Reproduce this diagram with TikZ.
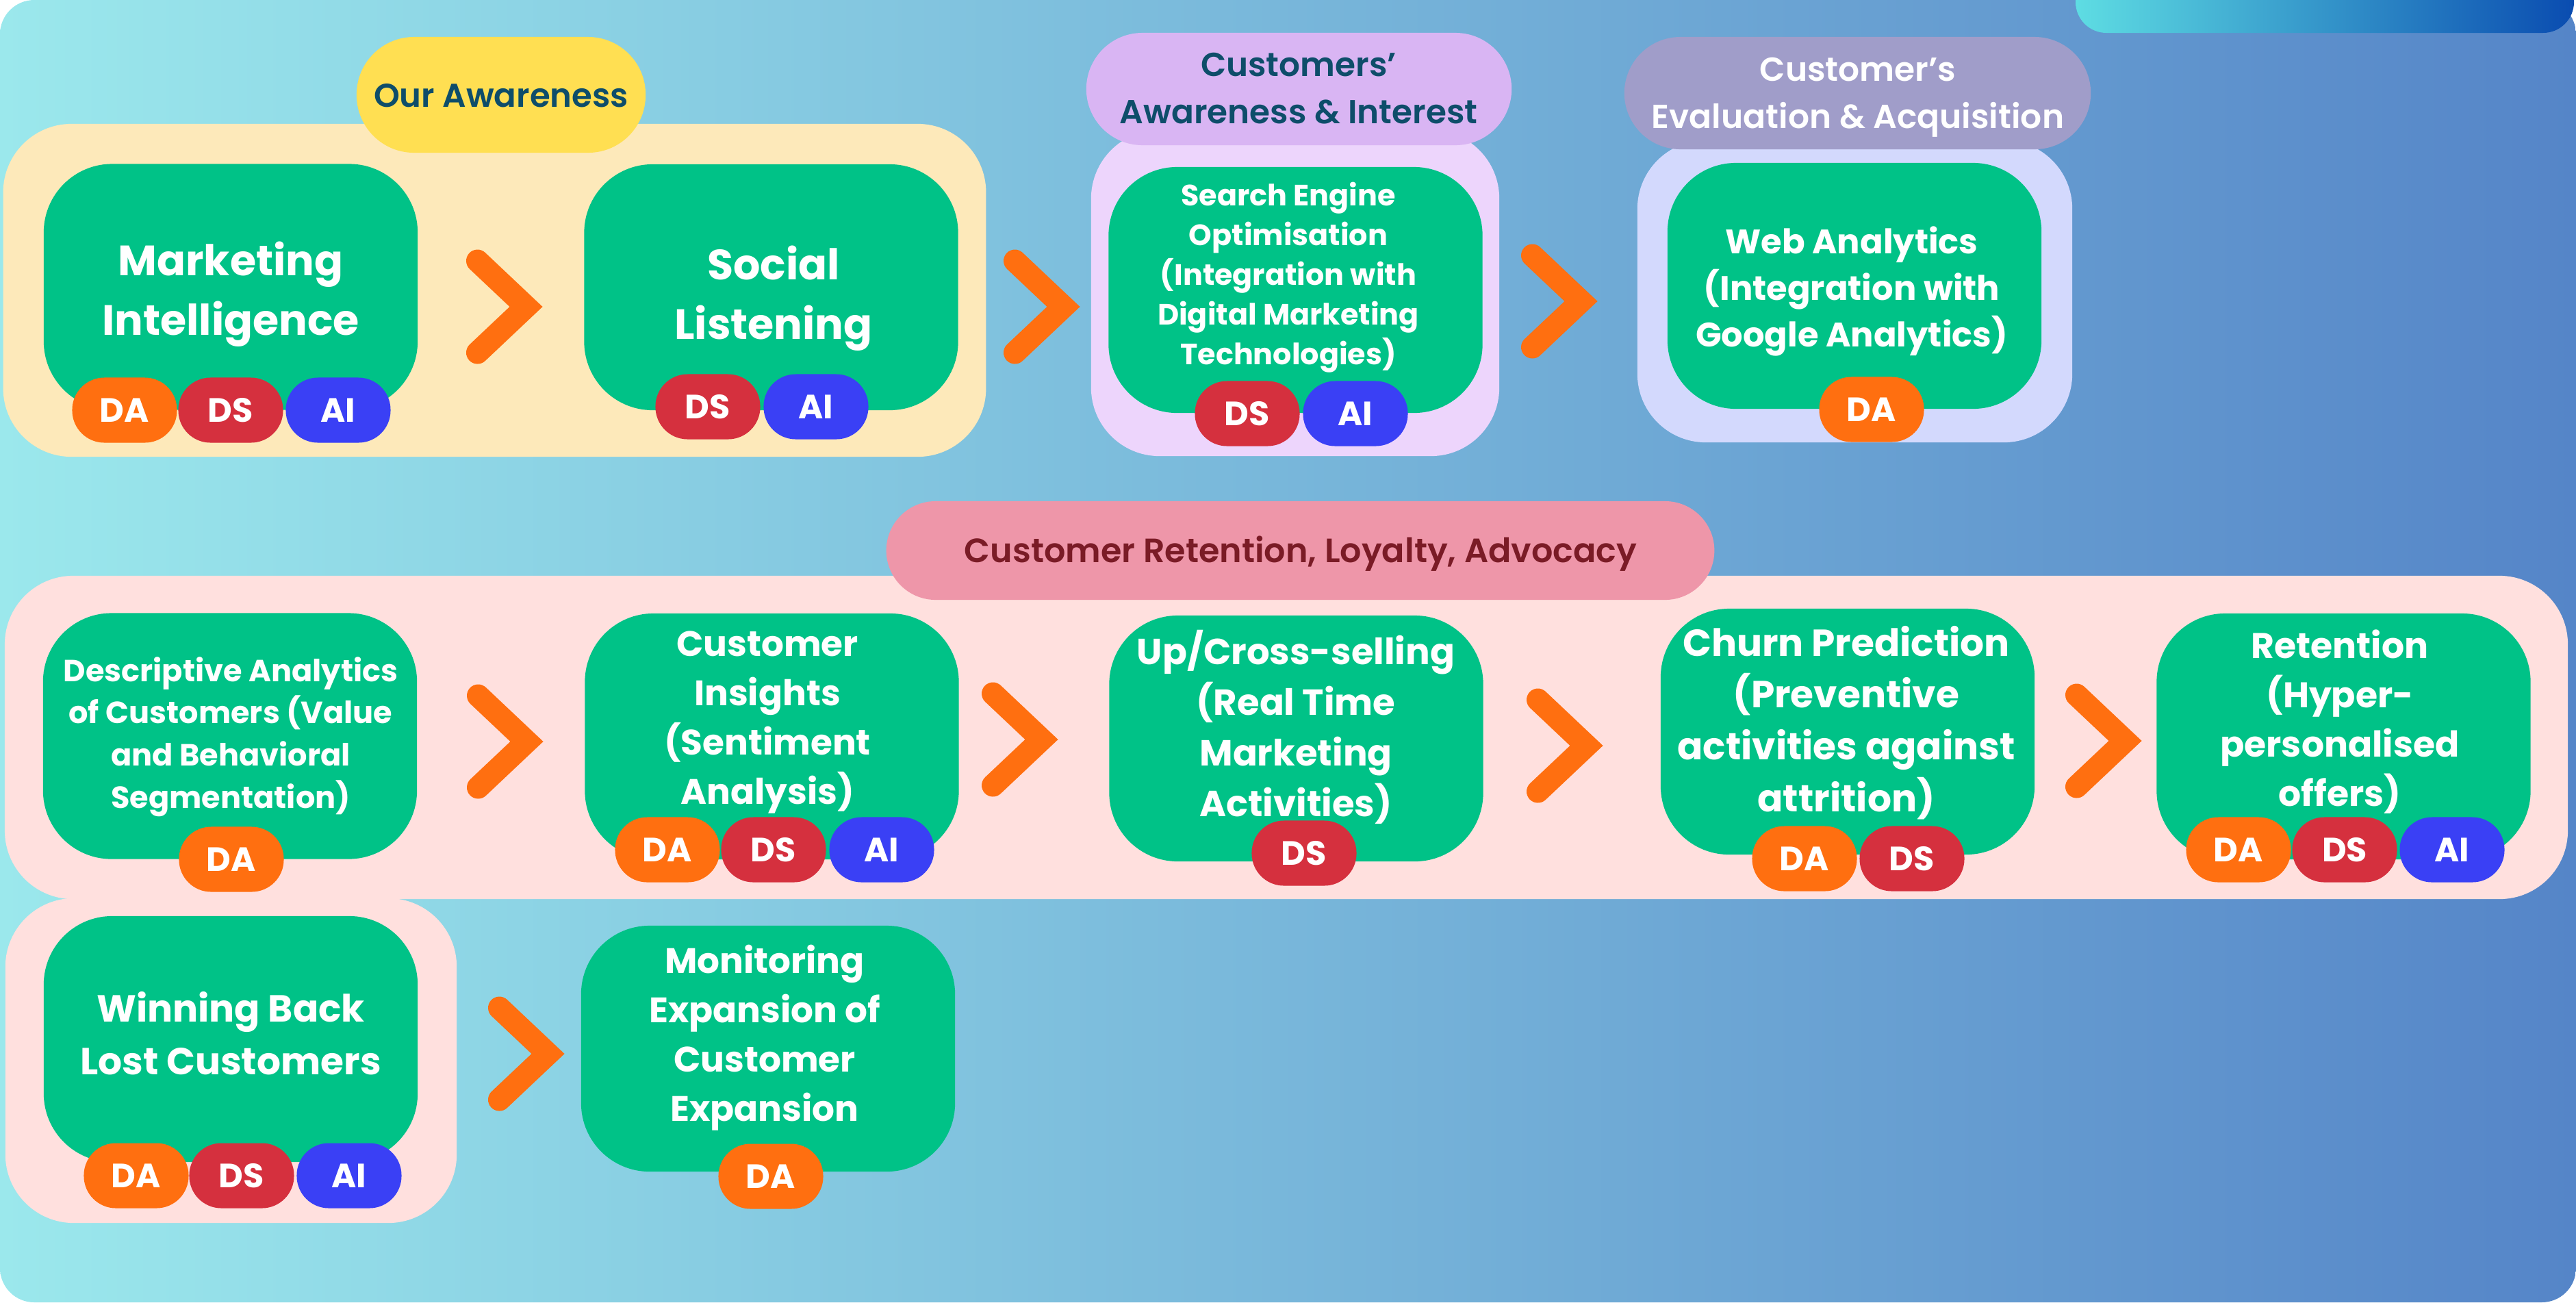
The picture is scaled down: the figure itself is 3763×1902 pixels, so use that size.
\documentclass[tikz,border=0pt]{standalone}
\usepackage{fontspec}
\setmainfont{Poppins}[UprightFont=* SemiBold, BoldFont=* Bold]
\definecolor{bgL}{HTML}{9BE8EC}
\definecolor{bgR}{HTML}{5585C8}
\definecolor{barL}{HTML}{5EDDE3}
\definecolor{barR}{HTML}{0A4CB0}
\definecolor{grn}{HTML}{00C287}
\definecolor{daC}{HTML}{FF6F10}
\definecolor{dsC}{HTML}{D5303E}
\definecolor{aiC}{HTML}{3A40F5}
\definecolor{yelC}{HTML}{FDE9BA}
\definecolor{yelL}{HTML}{FFDF52}
\definecolor{purC}{HTML}{EDD5FC}
\definecolor{purL}{HTML}{D9B5F3}
\definecolor{evaC}{HTML}{D3D9FD}
\definecolor{evaL}{HTML}{A09DC9}
\definecolor{pkC}{HTML}{FFE0DE}
\definecolor{pkL}{HTML}{EE96A9}
\definecolor{tealT}{HTML}{0E4D6A}
\definecolor{redT}{HTML}{7A1B26}
\newcommand\tl[1]{\vtop{\halign{\hfil##\hfil\cr#1\crcr}}}
\newcommand\fs[2]{\fontsize{#1}{#2}\selectfont}
\newcommand\chev[2]{\draw[chev] ({#1+16.5},{#2-67}) -- ({#1+87.5},{#2}) -- ({#1+16.5},{#2+67});}
\begin{document}
\begin{tikzpicture}[x=0.01cm,y=-0.01cm,
  box/.style={fill=grn, rounded corners=1cm, minimum width=5.46cm, minimum height=3.59cm, inner sep=0pt},
  cont/.style={rounded corners=1cm, inner sep=0pt},
  pill/.style={inner sep=0pt},
  badge/.style={text=white, rounded corners=0.47cm, minimum width=1.53cm, minimum height=0.95cm, inner sep=0pt, font=\bfseries\fs{14}{17}},
  wt/.style={text=white, anchor=base, inner sep=0pt},
  lt/.style={anchor=base, inner sep=0pt},
  chev/.style={draw=daC, line width=0.33cm, line cap=round, line join=miter}]
\useasboundingbox (0,0) rectangle (3763,1902);
% background
\shade[left color=bgL, right color=bgR, rounded corners=0.5cm] (0,0) rectangle (3763,1902);
\shade[left color=barL, right color=barR, rounded corners=0.45cm] (3032,-60) rectangle (3760,48);
% containers
\node[cont, fill=yelC, minimum width=14.35cm, minimum height=4.86cm] (yel) at (722.5,424) {};
\node[cont, fill=purC, minimum width=5.96cm, minimum height=4.76cm] (pur) at (1892,428) {};
\node[cont, fill=evaC, minimum width=6.35cm, minimum height=4.41cm] (eva) at (2709.5,425.5) {};
\node[cont, fill=pkC, minimum width=37.42cm, minimum height=4.72cm] (pk1) at (1879,1077) {};
\node[cont, fill=pkC, minimum width=6.59cm, minimum height=4.74cm] (pk2) at (337.5,1549) {};
% group labels
\node[pill, fill=yelL, rounded corners=0.84cm, minimum width=4.22cm, minimum height=1.69cm] (ourlbl) at (732,138.5) {};
\node[lt, text=tealT, font=\fs{13.7}{19.9}] (ourlbl-t) at (732,156) {\tl{Our Awareness}};
\node[pill, fill=purL, rounded corners=0.82cm, minimum width=6.21cm, minimum height=1.64cm] (curlbl) at (1897.5,130) {};
\node[lt, text=tealT, font=\fs{13.8}{19.9}] (curlbl-t) at (1897,111) {\tl{Customers’\cr Awareness \& Interest}};
\node[pill, fill=evaL, rounded corners=0.82cm, minimum width=6.81cm, minimum height=1.64cm] (evlbl) at (2713.5,136) {};
\node[lt, text=white, font=\fs{13.85}{19.7}] (evlbl-t) at (2714,118) {\tl{Customer’s\cr Evaluation \& Acquisition}};
\node[pill, fill=pkL, rounded corners=0.72cm, minimum width=12.09cm, minimum height=1.44cm] (retlbl) at (1899.5,804) {};
\node[lt, text=redT, font=\fs{14}{19.9}] (retlbl-t) at (1900,821) {\tl{Customer Retention, Loyalty, Advocacy}};
% green boxes
\node[box] (mi) at (337,419) {};
\node[box] (sl) at (1126.5,419.5) {};
\node[box] (seo) at (1892.5,423.5) {};
\node[box] (web) at (2709,417.5) {};
\node[box] (desc) at (336,1075) {};
\node[box] (ci) at (1127.5,1075.5) {};
\node[box] (uc) at (1893.5,1078.5) {};
\node[box] (ch) at (2699,1068.5) {};
\node[box] (ret) at (3423.5,1075.5) {};
\node[box] (win) at (337,1517.5) {};
\node[box] (mon) at (1122,1531.5) {};
% box texts
\node[wt, font=\bfseries\fs{17.6}{24.75}] (mi-t) at (337,402) {\tl{Marketing\cr Intelligence}};
\node[wt, font=\bfseries\fs{17.6}{24.75}] (sl-t) at (1130,408) {\tl{Social\cr Listening}};
\node[wt, font=\bfseries\fs{12.2}{16.5}] (seo-t) at (1882,300) {\tl{Search Engine\cr Optimisation\cr (Integration with\cr Digital Marketing\cr Technologies)}};
\node[wt, font=\bfseries\fs{14.1}{19.35}] (web-t) at (2705,370) {\tl{Web Analytics\cr (Integration with\cr Google Analytics)}};
\node[wt, font=\bfseries\fs{12.7}{17.6}] (desc-t) at (337,995) {\tl{Descriptive Analytics\cr of Customers (Value\cr and Behavioral\cr Segmentation)}};
\node[wt, font=\bfseries\fs{14.7}{20.5}] (ci-t) at (1121,958) {\tl{Customer\cr Insights\cr (Sentiment\cr Analysis)}};
\node[wt, font=\bfseries\fs{15.05}{21.05}] (uc-t) at (1893,970) {\tl{Up/Cross-selling\cr (Real Time\cr Marketing\cr Activities)}};
\node[wt, font=\bfseries\fs{15.65}{21.6}] (ch-t) at (2697,958) {\tl{Churn Prediction\cr (Preventive\cr activities against\cr attrition)}};
\node[wt, font=\bfseries\fs{14.8}{20.5}] (ret-t) at (3418,961) {\tl{Retention\cr (Hyper-\cr personalised\cr offers)}};
\node[wt, font=\bfseries\fs{15.65}{21.9}] (win-t) at (337,1492) {\tl{Winning Back\cr Lost Customers}};
\node[wt, font=\bfseries\fs{14.7}{20.5}] (mon-t) at (1117,1421) {\tl{Monitoring\cr Expansion of\cr Customer\cr Expansion}};
% badges
\node[badge, fill=daC] (mi-da) at (182,599) {DA};
\node[badge, fill=dsC] (mi-ds) at (337,599) {DS};
\node[badge, fill=aiC] (mi-ai) at (494,599) {AI};
\node[badge, fill=dsC] (sl-ds) at (1034,594) {DS};
\node[badge, fill=aiC] (sl-ai) at (1192,594) {AI};
\node[badge, fill=dsC] (seo-ds) at (1822,604) {DS};
\node[badge, fill=aiC] (seo-ai) at (1980,604) {AI};
\node[badge, fill=daC] (web-da) at (2734,598) {DA};
\node[badge, fill=daC] (desc-da) at (338,1255) {DA};
\node[badge, fill=daC] (ci-da) at (975,1241) {DA};
\node[badge, fill=dsC] (ci-ds) at (1130,1241) {DS};
\node[badge, fill=aiC] (ci-ai) at (1288,1241) {AI};
\node[badge, fill=dsC] (uc-ds) at (1905,1246) {DS};
\node[badge, fill=daC] (ch-da) at (2636,1254) {DA};
\node[badge, fill=dsC] (ch-ds) at (2793,1254) {DS};
\node[badge, fill=daC] (ret-da) at (3270,1241) {DA};
\node[badge, fill=dsC] (ret-ds) at (3425,1241) {DS};
\node[badge, fill=aiC] (ret-ai) at (3582,1241) {AI};
\node[badge, fill=daC] (win-da) at (199,1717) {DA};
\node[badge, fill=dsC] (win-ds) at (353,1717) {DS};
\node[badge, fill=aiC] (win-ai) at (510,1717) {AI};
\node[badge, fill=daC] (mon-da) at (1126,1718) {DA};
% chevrons
\chev{681}{448}
\chev{1466}{448}
\chev{2222}{440}
\chev{682}{1083}
\chev{1434}{1080}
\chev{2230}{1089}
\chev{3017}{1082}
\chev{713}{1539}
\end{tikzpicture}
\end{document}
